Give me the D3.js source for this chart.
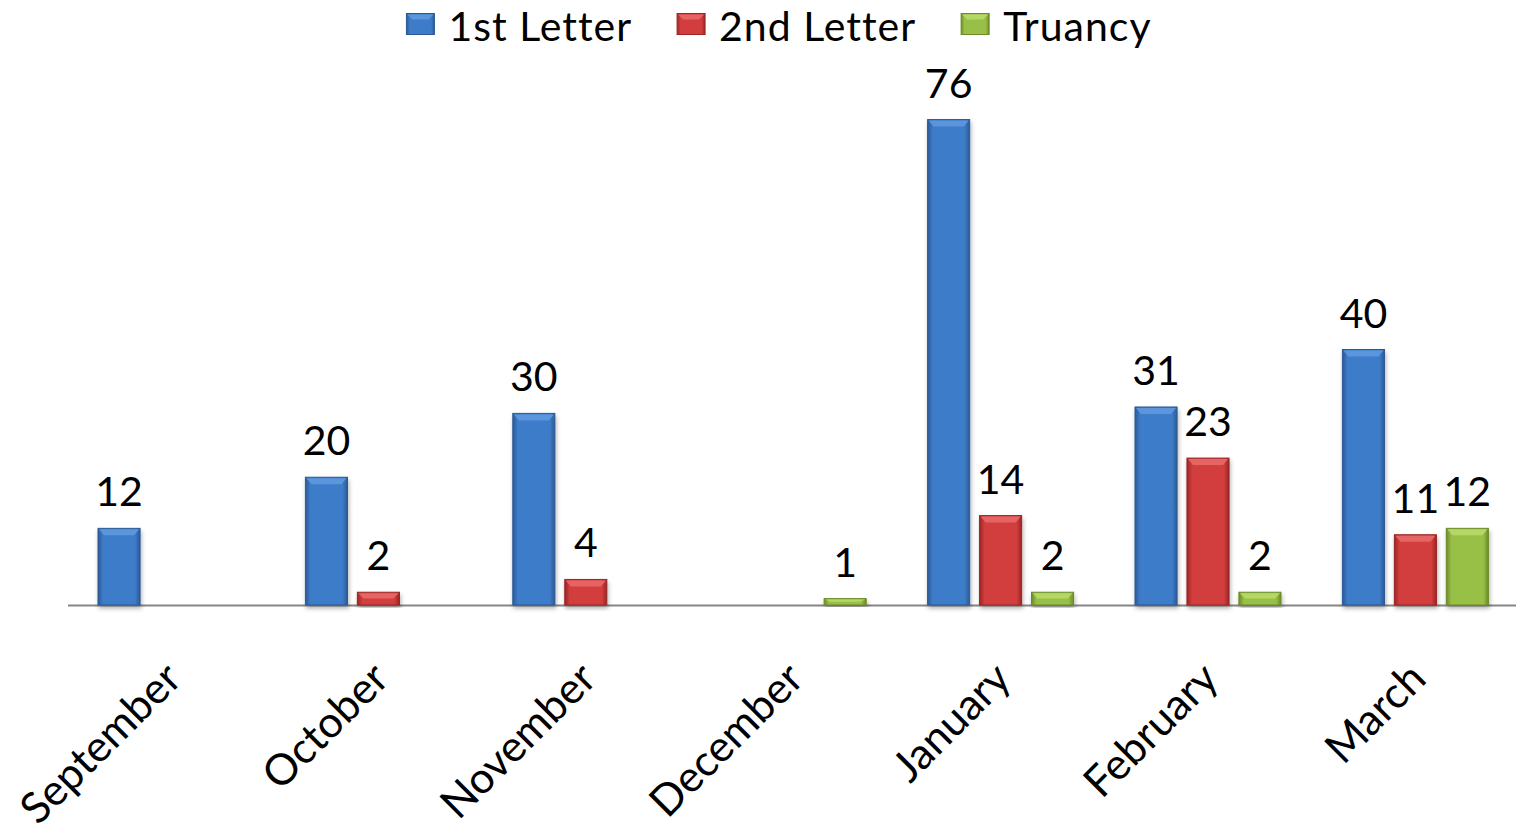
<!DOCTYPE html>
<html lang="en">
<head>
  <meta charset="UTF-8">
  <title>Letters by month</title>
  <script src="https://d3js.org/d3.v7.min.js"></script>
  <style>
    body { margin: 0; background: #fff; }
    text { font-family: Lato, "Open Sans", sans-serif; fill: #000; }
  </style>
</head>
<body>
<svg id="chart" width="1516" height="834"></svg>
<script>
  // Data (null = no bar)
  const months = ["September", "October", "November", "December", "January", "February", "March"];
  const seriesNames = ["1st Letter", "2nd Letter", "Truancy"];
  const firstLetter = [12, 20, 30, null, 76, 31, 40];
  const secondLetter = [null, 2, 4, null, 14, 23, 11];
  const truancy = [null, null, null, 1, 2, 2, 12];

  const width = 1516, height = 834;
  const margin = { top: 94, right: 0, bottom: 229, left: 68 };
  const baseY = height - margin.bottom;

  // colours per series: edge, main, light
  const palette = [
    { edge: "#2b5a96", main: "#3e7bc8", light: "#5b95dc" },
    { edge: "#9a2626", main: "#d23d3d", light: "#e56464" },
    { edge: "#6c8a2a", main: "#98c046", light: "#b4d766" }
  ];

  const series = [firstLetter, secondLetter, truancy].map((vals, i) => ({
    name: seriesNames[i], idx: i, values: vals
  }));

  const svg = d3.select("#chart");
  const defs = svg.append("defs");

  palette.forEach((c, i) => {
    const g = defs.append("linearGradient").attr("id", "grad" + i)
      .attr("x1", 0).attr("x2", 1).attr("y1", 0).attr("y2", 0);
    g.append("stop").attr("offset", "0%").attr("stop-color", c.edge);
    g.append("stop").attr("offset", "12%").attr("stop-color", c.main);
    g.append("stop").attr("offset", "88%").attr("stop-color", c.main);
    g.append("stop").attr("offset", "100%").attr("stop-color", c.edge);
  });

  const shadow = defs.append("filter").attr("id", "shadow")
    .attr("x", "-20%").attr("y", "-20%").attr("width", "140%").attr("height", "140%");
  shadow.append("feDropShadow").attr("dx", 1).attr("dy", 3).attr("stdDeviation", 2)
    .attr("flood-color", "#000").attr("flood-opacity", 0.3);

  // Scales
  const x0 = d3.scaleBand().domain(months)
    .range([margin.left, margin.left + 7 * 207.4]).paddingInner(0).paddingOuter(0);
  const x1 = d3.scaleBand().domain(d3.range(3))
    .range([30, 176]).paddingInner(0.19).paddingOuter(0);
  const y = d3.scaleLinear().domain([0, 80]).range([baseY, margin.top]);

  // Axis line along the baseline
  svg.append("line")
    .attr("x1", margin.left).attr("x2", width)
    .attr("y1", baseY + 0.5).attr("y2", baseY + 0.5)
    .attr("stroke", "#868686").attr("stroke-width", 2);

  // Bars
  const groups = svg.selectAll("g.series").data(series).join("g").attr("class", "series");

  const bars = groups.selectAll("g.bar")
    .data(s => s.values.map((v, j) => ({ month: months[j], value: v, idx: s.idx }))
      .filter(d => d.value != null))
    .join("g").attr("class", "bar");

  bars.append("rect")
    .attr("x", d => x0(d.month) + x1(d.idx))
    .attr("y", d => y(d.value))
    .attr("width", x1.bandwidth())
    .attr("height", d => baseY - y(d.value))
    .attr("fill", d => `url(#grad${d.idx})`)
    .attr("stroke", d => palette[d.idx].edge)
    .attr("stroke-width", 1)
    .attr("filter", "url(#shadow)");

  // top bevel highlight
  bars.append("path")
    .attr("d", d => {
      const bx = x0(d.month) + x1(d.idx), w = x1.bandwidth();
      const top = y(d.value), h = Math.min(7, (baseY - top) / 2);
      return `M${bx + 1},${top + 1}L${bx + w - 1},${top + 1}L${bx + w - 6},${top + h}L${bx + 6},${top + h}Z`;
    })
    .attr("fill", d => palette[d.idx].light);

  // Value labels
  bars.append("text")
    .attr("x", d => x0(d.month) + x1(d.idx) + x1.bandwidth() / 2)
    .attr("y", d => y(d.value) - 22)
    .attr("text-anchor", "middle")
    .attr("font-size", 41)
    .text(d => d.value);

  // Category labels, rotated
  svg.selectAll("text.month").data(months).join("text")
    .attr("class", "month")
    .attr("text-anchor", "end")
    .attr("font-size", 43)
    .attr("transform", d => `translate(${x0(d) + x0.bandwidth() / 2 + 12},${baseY + 76}) rotate(-45)`)
    .text(d => d);

  // Legend
  const legend = svg.append("g").attr("class", "legend");
  const swW = 28, swH = 21, gapText = 14, gapItem = 45;
  let lx = 0;
  series.forEach(s => {
    const g = legend.append("g");
    g.append("rect").attr("x", 0).attr("y", -swH / 2).attr("width", swW).attr("height", swH)
      .attr("fill", `url(#grad${s.idx})`).attr("stroke", palette[s.idx].edge);
    g.append("path")
      .attr("d", `M1,${-swH / 2 + 1}L${swW - 1},${-swH / 2 + 1}L${swW - 6},${-swH / 2 + 6}L6,${-swH / 2 + 6}Z`)
      .attr("fill", palette[s.idx].light);
    const t = g.append("text").attr("x", swW + gapText).attr("y", 17)
      .attr("font-size", 41).attr("letter-spacing", 1).text(s.name);
    const w = swW + gapText + t.node().getComputedTextLength();
    g.attr("transform", `translate(${lx},0)`);
    lx += w + gapItem;
  });
  const legendW = lx - gapItem;
  legend.attr("transform", `translate(${779 - legendW / 2},24)`);
</script>
</body>
</html>
